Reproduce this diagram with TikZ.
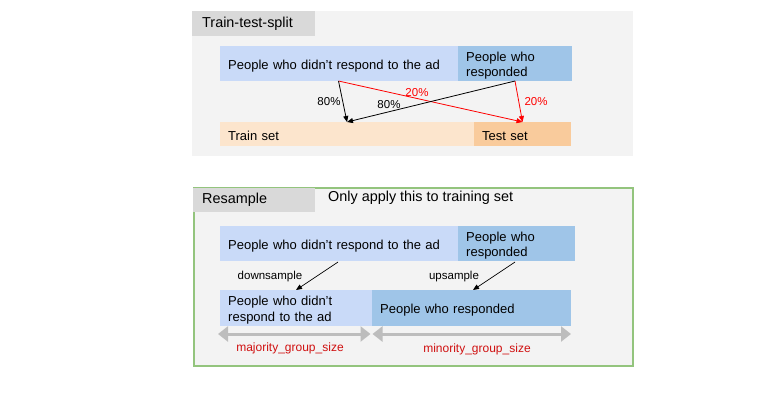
\documentclass[tikz,border=0pt]{standalone}
\usepackage{fontspec}
\setmainfont{Liberation Sans}
\usetikzlibrary{arrows.meta}
\definecolor{panelbg}{HTML}{F3F3F3}
\definecolor{tabbg}{HTML}{D9D9D9}
\definecolor{lblue}{HTML}{C9DAF8}
\definecolor{dblue}{HTML}{9FC5E8}
\definecolor{lorange}{HTML}{FCE5CD}
\definecolor{dorange}{HTML}{F9CB9C}
\definecolor{pgreen}{HTML}{93C47D}
\definecolor{sizered}{HTML}{D01010}
\definecolor{arrgray}{HTML}{BDBDBD}
\tikzset{
  cell/.style={anchor=north west, inner ysep=0pt, inner xsep=8pt, align=left,
    font=\fontsize{13}{15.5}\selectfont, text height=13.5pt},
  tab/.style={anchor=north west, fill=tabbg, inner sep=0pt, minimum width=123pt,
    minimum height=25pt},
  tabtext/.style={anchor=west, font=\fontsize{14.4}{17}\selectfont, inner sep=0pt},
  small/.style={font=\fontsize{11.5}{13}\selectfont, inner sep=0pt},
  sizelbl/.style={font=\fontsize{12}{14}\selectfont, inner sep=0pt, text=sizered},
  blk/.style={-{Triangle[length=6pt,width=5pt]}, line width=0.8pt, black},
  rd/.style={-{Triangle[length=6pt,width=5pt]}, line width=0.8pt, red},
  dim/.style={{Triangle[length=10pt,width=15pt]}-{Triangle[length=10pt,width=15pt]},
    line width=3pt, arrgray}
}
\begin{document}
\begin{tikzpicture}[x=1pt,y=-1pt]
\useasboundingbox (0,0) rectangle (778,409);
\fill[white] (0,0) rectangle (778,409);

% ---------- top panel ----------
\node[anchor=north west, fill=panelbg, inner sep=0pt, minimum width=441pt, minimum height=145pt] (p1) at (192,11) {};
\node[tab] (t1) at (192,11) {};
\node[tabtext] (t1txt) at (202,23.5) {Train-test-split};

\node[cell, fill=lblue, text width=222pt, minimum height=35pt] (nr1) at (220,46) {People who didn’t respond to the ad};
\node[cell, fill=dblue, text width=98pt, minimum height=35pt] (r1) at (458,46) {People who\\responded};
\node[cell, fill=lorange, text width=238pt, minimum height=24pt] (train) at (220,122) {Train set};
\node[cell, fill=dorange, text width=81pt, minimum height=24pt] (test) at (474,122) {Test set};

\coordinate (a1s) at (338.5,81);
\coordinate (a2s) at (515,81);
\coordinate (trainin) at (347,122);
\coordinate (testin) at (522.5,122);
\draw[rd] (a1s) -- (testin);
\draw[rd] (a2s) -- (testin);
\draw[blk] (a1s) -- (trainin);
\draw[blk] (a2s) -- (trainin);
\node[small] (l80a) at (329,102) {80\%};
\node[small] (l80b) at (389,105) {80\%};
\node[small, text=red] (l20a) at (417,93) {20\%};
\node[small, text=red] (l20b) at (536,102) {20\%};

% ---------- bottom panel ----------
\node[anchor=north west, fill=panelbg, draw=pgreen, line width=2pt, inner sep=0pt, minimum width=439pt, minimum height=178pt] (p2) at (193,187) {};
\node[tab, minimum width=122pt, minimum height=24pt] (t2) at (193,188) {};
\node[tabtext] (t2txt) at (202,199.5) {Resample};
\node[tabtext] (note) at (328,197.5) {Only apply this to training set};

\node[cell, fill=lblue, text width=222pt, minimum height=35pt] (nr2) at (220,226) {People who didn’t respond to the ad};
\node[cell, fill=dblue, text width=101pt, minimum height=35pt] (r2) at (458,226) {People who\\responded};
\node[cell, fill=lblue, text width=136pt, minimum height=36pt] (nr3) at (220,290) {People who didn’t\\respond to the ad};
\node[cell, fill=dblue, text width=183pt, minimum height=36pt] (r3) at (372,290) {People who responded};

\coordinate (d1s) at (338,262);
\coordinate (d1e) at (296,290);
\coordinate (u1s) at (515,262);
\coordinate (u1e) at (473,290);
\draw[blk, line width=0.7pt] (d1s) -- (d1e);
\draw[blk, line width=0.7pt] (u1s) -- (u1e);
\node[small] (down) at (270,277) {downsample};
\node[small] (up) at (454,277) {upsample};

\coordinate (m1) at (218,334);
\coordinate (m2) at (370.5,334);
\coordinate (m3) at (372.5,334);
\coordinate (m4) at (571,334);
\draw[dim] (m1) -- (m2);
\draw[dim] (m3) -- (m4);
\node[sizelbl] (maj) at (290,348) {majority\_group\_size};
\node[sizelbl] (min) at (477,349.5) {minority\_group\_size};
\end{tikzpicture}
\end{document}
